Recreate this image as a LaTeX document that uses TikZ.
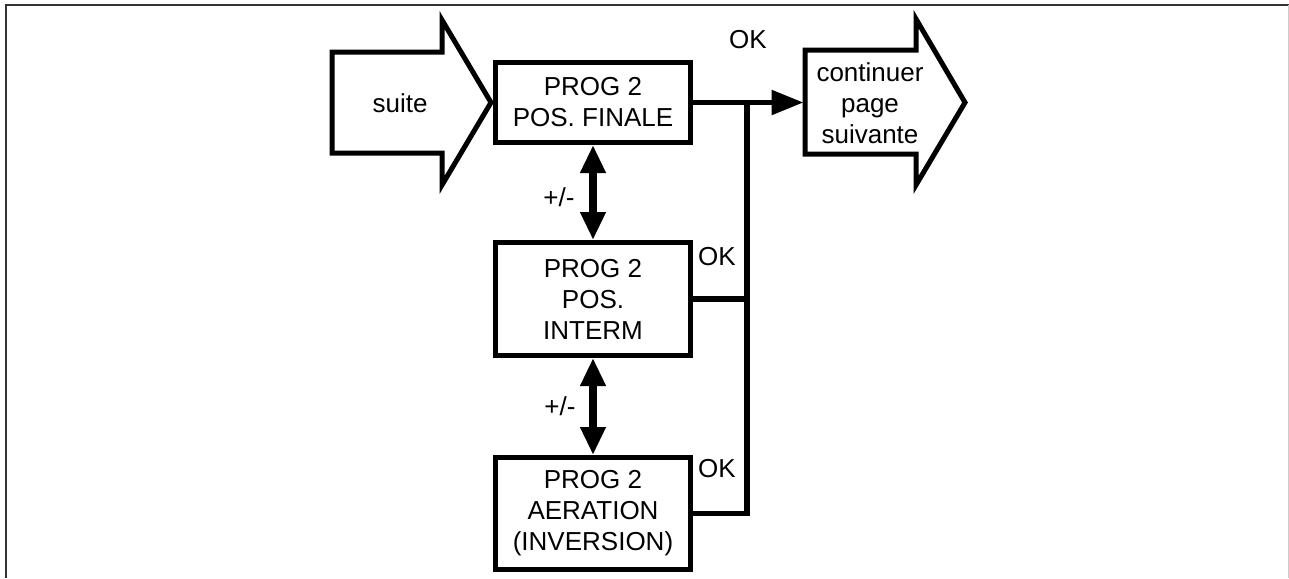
\documentclass[tikz,border=0pt]{standalone}
\usepackage{fontspec}
\setmainfont{Liberation Sans}
\usetikzlibrary{arrows.meta}
\def\txt{\fontsize{13}{15.5}\selectfont}

\begin{document}
\begin{tikzpicture}[x=0.5pt,y=-0.5pt,
    prog/.style={draw,line width=2.5pt,minimum width=97.5pt,inner sep=0pt,align=center,font=\txt},
    lbl/.style={font=\txt,align=center},
    fleche/.style={line width=2.5pt,line join=miter},
    lien/.style={line width=2.75pt,line join=miter},
    plusmoins/.style={line width=4pt,{Triangle[length=14pt,width=12pt]}-{Triangle[length=14pt,width=12pt]}}]
  \useasboundingbox (0,0) rectangle (1289,578);
  \draw[black!80,line width=1pt] (6,578)--(6,4.5)--(1289,4.5);
  \draw[black!20,line width=0.5pt] (1288.5,4.5)--(1288.5,578);
	\draw[fleche] (332,52)--(442,52)--(442,20)--(491,102.5)--(442,185)--(442,153)--(332,153)--cycle;
    \node[lbl] (suite) at (400,103){suite};
    \node[prog,minimum height=40pt] (final) at (593,102.5){PROG 2\\POS. FINALE};
    \node[prog,minimum height=56.5pt] (interm) at (593,299){PROG 2\\POS.\\INTERM};
    \node[prog,minimum height=56pt] (aeration) at (593,513.5){PROG 2\\AERATION\\(INVERSION)};
	\draw[fleche] (805,50)--(916,50)--(916,19)--(965,102.5)--(916,185)--(916,154)--(805,154)--cycle;
    \node[lbl] (suivante) at (870,103){continuer\\page\\suivante};
    \coordinate (entree) at (803.5,102.5);
    \coordinate (jonction) at (747,102.5);
    \draw[lien,-{Triangle[length=16pt,width=12pt]}] (final.east)--(entree);
     \draw[lien] (jonction)--(jonction |- aeration.east)--(aeration.east);
     \draw[lien] (interm.east)--(interm.east -| jonction);
    \node[lbl] (ok1) at (748,40){OK};
    \node[lbl] (ok2) at (717,257){OK};
    \node[lbl] (ok3) at (717,469){OK};
     \draw[plusmoins] (final.south)--(interm.north);
      \node[lbl] (pm1) at (559,197){+/-};
     \draw[plusmoins] (interm.south)--(aeration.north);
      \node[lbl] (pm2) at (560,406){+/-};
\end{tikzpicture}
\end{document}
